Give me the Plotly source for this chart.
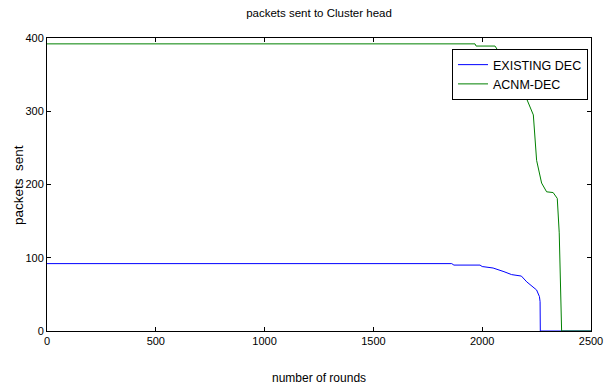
import plotly.graph_objects as go

blue_x = [0, 1860, 1870, 1990, 2000, 2050, 2100, 2135, 2180, 2205, 2250, 2263, 2266, 2267, 2500]
blue_y = [92, 92, 90, 90, 88, 86, 81, 77, 75, 67, 56, 47, 40, 0, 0]

green_x = [0, 1967, 1972, 2059, 2100, 2150, 2200, 2235, 2250, 2273, 2296, 2326, 2345, 2354, 2365, 2500]
green_y = [392, 392, 389, 389, 370, 345, 320, 295, 233, 202, 190, 189, 181, 134, 0, 0]

x_ticks = [0, 500, 1000, 1500, 2000, 2500]
y_ticks = [0, 100, 200, 300, 400]

FONT = "Liberation Sans, Arial"

fig = go.Figure()
fig.add_trace(go.Scatter(x=blue_x, y=blue_y, mode="lines", name="EXISTING DEC",
                         line=dict(color="#0000ff", width=1)))
fig.add_trace(go.Scatter(x=green_x, y=green_y, mode="lines", name="ACNM-DEC",
                         line=dict(color="#008000", width=1)))

axis_common = dict(showgrid=False, zeroline=False, showline=True, linecolor="black",
                   linewidth=1, mirror="ticks", ticks="inside", ticklen=4,
                   tickcolor="black", automargin=False, ticklabeloverflow="allow",
                   tickfont=dict(family=FONT, size=11, color="black"))

W, H = 606, 387
L, R, T, B = 47, 15, 38, 56
PW, PH = W - L - R, H - T - B

fig.update_layout(
    width=W, height=H,
    margin=dict(l=L, r=R, t=T, b=B),
    paper_bgcolor="white", plot_bgcolor="white",
    title=dict(text="packets sent to Cluster head", x=0.5, xanchor="center",
               xref="paper", y=1 - 13 / H, yanchor="middle", yref="container",
               font=dict(family=FONT, size=11.5, color="black")),
    xaxis=dict(range=[0, 2500], tickvals=x_ticks, **axis_common),
    yaxis=dict(range=[0, 400], tickvals=y_ticks, **axis_common),
    legend=dict(x=(588 - 47) / PW, y=(331 - 49) / PH, xanchor="right", yanchor="top",
                bgcolor="white", bordercolor="black", borderwidth=1,
                font=dict(family=FONT, size=12.5, color="black"),
                itemwidth=30),
    showlegend=True,
    annotations=[
        dict(text="number of rounds", xref="paper", yref="paper", x=0.5, y=-47 / PH,
             xanchor="center", yanchor="middle", showarrow=False,
             font=dict(family=FONT, size=12, color="black")),
        dict(text="packets  sent", xref="paper", yref="paper", x=-29 / PW, y=146 / PH,
             xanchor="center", yanchor="middle", showarrow=False, textangle=-90,
             font=dict(family=FONT, size=13.5, color="black")),
    ],
)

fig.write_html(
    "out.html",
    config={"displayModeBar": False},
    post_script="document.body.style.margin='0';document.body.style.overflow='hidden';",
)
